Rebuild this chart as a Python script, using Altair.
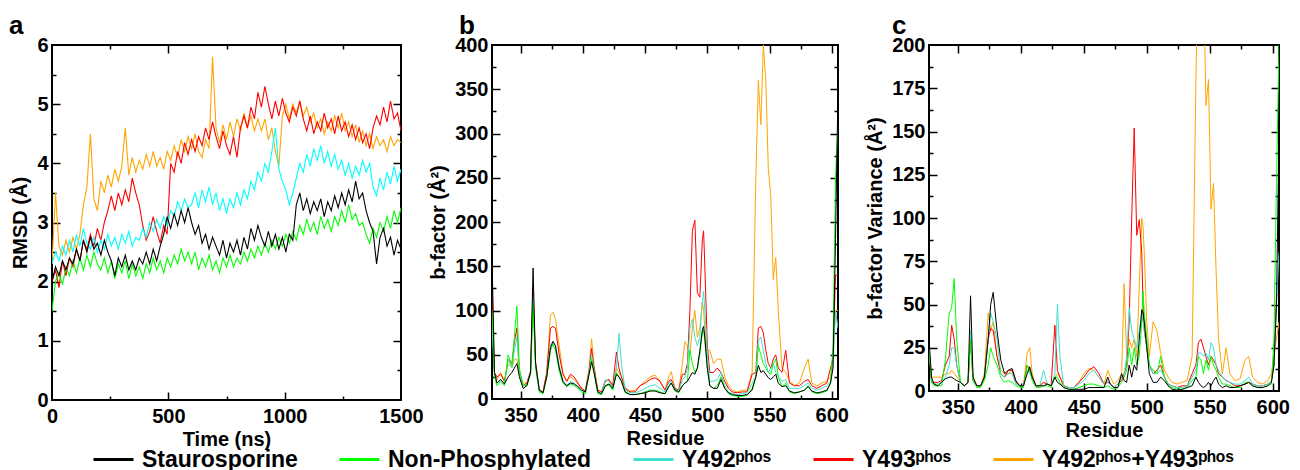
import altair as alt
import pandas as pd

FONT = "Liberation Sans"

series_names = ["Staurosporine", "Non-Phosphylated", "Y492ᵖʰᵒˢ", "Y493ᵖʰᵒˢ", "Y492ᵖʰᵒˢ+Y493ᵖʰᵒˢ"]
colors_a = ["#000000", "#00ff00", "#00ffff", "#ff0000", "#ffa500"]
colors_bc = ["#000000", "#00ff00", "#40e0d0", "#ff0000", "#ffa500"]

# ---------------- panel a: RMSD vs time ----------------
time_ns = list(range(0, 1501, 15))

rmsd_staurosporine = [
    2.00, 2.25, 2.10, 2.35, 2.20, 2.40, 2.30, 2.55, 2.35, 2.70,
    2.50, 2.75, 2.55, 2.65, 2.45, 2.70, 2.50, 2.35, 2.10, 2.40,
    2.25, 2.45, 2.20, 2.35, 2.20, 2.40, 2.30, 2.50, 2.30, 2.55,
    2.35, 2.60, 2.80, 3.10, 2.90, 3.15, 2.95, 3.20, 3.00, 3.25,
    3.00, 2.80, 2.95, 2.65, 2.80, 2.55, 2.75, 2.60, 2.45, 2.70,
    2.40, 2.65, 2.50, 2.70, 2.45, 2.75, 2.55, 2.90, 2.70, 2.95,
    2.75, 2.60, 2.85, 2.60, 2.80, 2.55, 2.75, 2.50, 2.80, 2.70,
    3.30, 3.50, 3.20, 3.40, 3.15, 3.35, 3.20, 3.40, 3.10, 3.35,
    3.20, 3.45, 3.25, 3.50, 3.30, 3.55, 3.35, 3.70, 3.40, 3.50,
    3.20, 3.00, 2.85, 2.30, 2.75, 2.90, 2.60, 2.75, 2.45, 2.70,
    2.55]
rmsd_nonphos = [
    1.50, 2.00, 2.15, 1.95, 2.25, 2.10, 2.35, 2.15, 2.40, 2.20,
    2.45, 2.25, 2.50, 2.30, 2.20, 2.40, 2.15, 2.35, 2.05, 2.30,
    2.15, 2.35, 2.05, 2.30, 2.10, 2.25, 2.05, 2.30, 2.15, 2.40,
    2.20, 2.35, 2.15, 2.40, 2.25, 2.45, 2.30, 2.55, 2.35, 2.50,
    2.30, 2.50, 2.20, 2.40, 2.25, 2.45, 2.20, 2.35, 2.15, 2.40,
    2.25, 2.45, 2.25, 2.40, 2.30, 2.50, 2.35, 2.55, 2.40, 2.60,
    2.45, 2.65, 2.50, 2.70, 2.55, 2.75, 2.60, 2.80, 2.65, 2.85,
    2.70, 2.95, 2.80, 3.05, 2.85, 3.00, 2.80, 3.10, 2.90, 3.05,
    2.85, 3.10, 2.95, 3.20, 3.00, 3.30, 3.05, 3.15, 2.95, 3.00,
    2.80, 2.65, 2.90, 2.75, 3.00, 2.85, 3.10, 2.90, 3.20, 3.00,
    3.25]
rmsd_y492 = [
    2.30, 2.50, 2.35, 2.60, 2.45, 2.70, 2.50, 2.80, 2.60, 2.90,
    2.65, 2.55, 2.75, 2.50, 2.70, 2.55, 2.80, 2.60, 2.75, 2.55,
    2.80, 2.65, 2.85, 2.60, 2.75, 2.70, 2.90, 2.75, 3.00, 2.85,
    3.05, 2.90, 3.10, 2.95, 3.20, 3.10, 3.35, 3.20, 3.40, 3.25,
    3.30, 3.50, 3.25, 3.55, 3.35, 3.60, 3.30, 3.50, 3.20, 3.40,
    3.15, 3.40, 3.25, 3.50, 3.30, 3.55, 3.40, 3.70, 3.55, 3.85,
    3.70, 4.00, 3.85, 4.20, 4.60, 3.90, 3.70, 3.55, 3.30, 3.50,
    3.75, 4.00, 3.85, 4.15, 3.95, 4.25, 4.05, 4.30, 4.00, 4.20,
    3.95, 4.15, 3.90, 4.05, 3.80, 4.00, 3.75, 3.95, 3.80, 4.05,
    3.85, 4.00, 3.60, 3.45, 3.75, 3.55, 3.85, 3.65, 3.95, 3.70,
    3.90]
rmsd_y493 = [
    2.00, 2.20, 1.90, 2.35, 2.10, 2.40, 2.25, 2.55, 2.35, 2.70,
    2.55, 2.80, 2.60, 2.90, 2.70, 3.00, 3.20, 3.45, 3.20, 3.50,
    3.30, 3.55, 3.35, 3.75, 3.50, 3.30, 2.95, 2.70, 2.85, 3.10,
    2.85, 2.65, 2.95, 2.80, 4.00, 3.85, 4.20, 4.00, 4.35, 4.15,
    4.40, 4.20, 4.45, 4.30, 4.60, 4.40, 4.70, 4.45, 4.25, 4.55,
    4.30, 4.15, 4.45, 4.10, 4.60, 4.80, 4.60, 4.95, 4.75, 5.20,
    4.95, 5.30, 5.00, 4.75, 5.05, 4.80, 5.10, 4.85, 4.70, 4.95,
    4.80, 5.05, 4.75, 4.55, 4.80, 4.50, 4.70, 4.55, 4.85, 4.60,
    4.75, 4.50, 4.80, 4.55, 4.70, 4.45, 4.65, 4.40, 4.60, 4.35,
    4.50, 4.25, 4.60, 4.80, 4.65, 4.95, 4.70, 5.05, 4.75, 4.85,
    4.55]
rmsd_y492_y493 = [
    2.30, 3.50, 2.60, 2.45, 2.70, 2.50, 2.75, 2.55, 2.80, 3.30,
    3.60, 4.50, 3.40, 3.20, 3.70, 3.50, 3.80, 3.60, 3.90, 3.70,
    3.95, 4.60, 3.80, 4.10, 3.85, 4.05, 3.90, 4.15, 3.95, 4.20,
    3.95, 4.10, 3.90, 4.20, 4.05, 4.30, 4.10, 4.40, 4.20, 4.45,
    4.25, 4.50, 4.20, 4.10, 4.40, 4.25, 5.80, 4.60, 4.35, 4.65,
    4.40, 4.70, 4.45, 4.75, 4.55, 4.85, 4.60, 4.80, 4.55, 4.75,
    4.55, 4.75, 4.40, 4.60, 4.20, 3.95, 4.80, 5.00, 4.75, 5.00,
    4.85, 5.05, 4.80, 4.95, 4.70, 4.85, 4.60, 4.75, 4.50, 4.70,
    4.55, 4.80, 4.60, 4.85, 4.55, 4.70, 4.45, 4.65, 4.35, 4.55,
    4.30, 4.50, 4.25, 4.45, 4.30, 4.40, 4.20, 4.45, 4.30, 4.40,
    4.35]

# ---------------- panels b, c: per-residue ----------------
residues = [
    327, 329, 331, 334, 337, 340, 343, 345, 347, 349,
    352, 355, 358, 360, 362, 365, 368, 371, 374, 376,
    378, 381, 384, 387, 390, 393, 396, 399, 402, 405,
    407, 409, 412, 415, 418, 421, 424, 427, 429, 431,
    434, 438, 442, 446, 450, 454, 458, 462, 466, 469,
    471, 474, 477, 480, 482, 484, 486, 488, 490, 492,
    494, 496, 497, 498, 500, 502, 505, 508, 511, 514,
    517, 520, 524, 528, 532, 536, 539, 541, 543, 545,
    547, 549, 551, 553, 555, 557, 560, 563, 566, 570,
    574, 578, 581, 584, 588, 592, 596, 599, 601, 603,
    605]

bfac_staurosporine = [
    160, 30, 18, 22, 17, 25, 30, 35, 40, 25,
    12, 15, 30, 148, 40, 10, 7, 25, 58, 65,
    60, 35, 20, 15, 18, 17, 14, 10, 8, 28,
    42, 30, 8, 6, 15, 17, 12, 28, 25, 20,
    8, 5, 5, 6, 7, 9, 9, 7, 6, 14,
    18, 10, 8, 15, 18, 20, 25, 30, 28, 35,
    55, 78, 82, 70, 35, 15, 12, 12, 22, 12,
    7, 5, 4, 4, 5, 10, 25, 38, 30, 32,
    28, 24, 22, 25, 28, 18, 14, 15, 9, 7,
    8, 10, 14, 9, 7, 8, 10, 18, 35, 180,
    350]
bfac_nonphos = [
    100, 25, 15, 20, 15, 50, 38, 70, 105, 35,
    15, 15, 28, 110, 35, 8, 6, 25, 55, 62,
    55, 32, 18, 14, 17, 15, 12, 8, 6, 28,
    45, 30, 6, 5, 14, 16, 10, 30, 25, 20,
    7, 5, 5, 6, 8, 10, 10, 8, 6, 14,
    18, 9, 7, 15, 18, 20, 55, 40, 30, 35,
    50, 75, 78, 65, 35, 15, 12, 15, 25, 12,
    6, 4, 3, 3, 4, 12, 25, 60, 50, 40,
    35, 30, 28, 40, 45, 25, 14, 18, 8, 6,
    8, 10, 15, 8, 6, 7, 9, 18, 60, 250,
    310]
bfac_y492 = [
    80, 28, 18, 22, 17, 45, 35, 55, 70, 30,
    15, 16, 30, 115, 38, 9, 7, 25, 62, 65,
    60, 38, 20, 15, 20, 18, 14, 10, 7, 30,
    50, 32, 7, 6, 22, 20, 12, 35, 74, 40,
    10, 7, 7, 9, 12, 15, 16, 12, 8, 18,
    20, 11, 9, 22, 25, 35, 80, 90, 70, 60,
    70, 110, 122, 100, 50, 20, 20, 22, 30, 15,
    8, 6, 5, 6, 7, 18, 25, 65, 70, 55,
    40, 30, 35, 40, 30, 25, 20, 22, 12, 12,
    12, 15, 18, 12, 10, 12, 15, 20, 40, 100,
    80]
bfac_y493 = [
    120, 30, 25, 28, 20, 45, 40, 65, 80, 30,
    15, 18, 32, 125, 42, 10, 8, 30, 80, 82,
    80, 50, 28, 20, 28, 25, 18, 12, 9, 32,
    57, 35, 10, 8, 20, 22, 15, 53, 35, 25,
    12, 8, 8, 15, 18, 22, 24, 20, 10, 20,
    22, 12, 10, 28, 28, 40, 100, 190, 202, 120,
    115, 180, 190, 150, 60, 30, 30, 35, 30, 20,
    12, 8, 7, 8, 8, 28, 30, 80, 82, 75,
    55, 40, 35, 45, 50, 35, 30, 55, 18, 15,
    15, 20, 22, 15, 12, 15, 18, 35, 45, 140,
    140]
bfac_y492_y493 = [
    100, 25, 22, 30, 20, 40, 35, 45, 45, 30,
    18, 18, 30, 120, 40, 10, 8, 30, 95, 98,
    90, 60, 30, 20, 25, 22, 17, 12, 9, 35,
    68, 38, 10, 8, 20, 22, 15, 35, 30, 25,
    12, 9, 10, 15, 20, 25, 27, 20, 10, 25,
    31, 12, 10, 40, 65, 60, 50, 80, 100, 70,
    80, 110, 100, 80, 55, 55, 40, 45, 45, 25,
    15, 10, 8, 10, 10, 30, 250, 360, 310, 400,
    360, 260, 230, 135, 160, 100, 35, 30, 20, 15,
    18, 35, 45, 18, 15, 18, 20, 25, 45, 100,
    100]

bvar_staurosporine = [
    30, 8, 4, 3, 5, 7, 8, 8, 7, 6,
    5, 3, 5, 55, 8, 3, 3, 8, 30, 50,
    57, 35, 18, 10, 12, 13, 6, 3, 3, 10,
    14, 8, 3, 3, 3, 4, 3, 8, 5, 4,
    2, 1, 1, 1, 1, 2, 2, 2, 2, 8,
    4, 2, 2, 10, 6, 5, 15, 8, 15, 12,
    30, 47, 45, 40, 25, 10, 5, 5, 8, 6,
    3, 1, 0.5, 1, 2, 3, 8, 5, 3, 2,
    3, 5, 3, 6, 8, 4, 2, 3, 2, 2,
    3, 4, 5, 3, 2, 2, 3, 5, 15, 50,
    150]
bvar_nonphos = [
    25, 5, 3, 3, 3, 18, 45, 48, 65, 30,
    5, 3, 5, 30, 6, 2, 2, 6, 15, 25,
    20, 15, 8, 5, 6, 5, 3, 2, 2, 15,
    12, 6, 2, 2, 3, 3, 2, 8, 8, 5,
    2, 1, 1, 2, 3, 4, 4, 3, 2, 3,
    2, 1, 2, 5, 8, 12, 25, 15, 25, 15,
    20, 40, 58, 45, 30, 15, 12, 10, 20, 8,
    3, 2, 1, 1, 2, 6, 8, 20, 18, 10,
    18, 12, 20, 15, 12, 8, 4, 4, 3, 2,
    2, 5, 5, 3, 2, 2, 3, 4, 30, 120,
    200]
bvar_y492 = [
    25, 6, 4, 4, 5, 8, 15, 25, 25, 15,
    5, 3, 5, 35, 7, 3, 3, 8, 30, 45,
    40, 30, 10, 8, 10, 10, 4, 3, 3, 12,
    10, 8, 3, 3, 12, 4, 3, 10, 50, 20,
    3, 2, 2, 4, 6, 10, 12, 8, 4, 6,
    4, 2, 4, 8, 10, 20, 48, 35, 30, 25,
    35, 45, 40, 35, 25, 15, 10, 10, 12, 8,
    4, 3, 2, 2, 3, 8, 12, 22, 22, 20,
    22, 18, 28, 25, 15, 12, 8, 6, 5, 4,
    4, 6, 8, 4, 3, 3, 4, 6, 15, 50,
    80]
bvar_y493 = [
    25, 5, 5, 5, 6, 15, 20, 38, 30, 15,
    5, 3, 5, 30, 6, 3, 3, 8, 30, 36,
    35, 20, 10, 8, 12, 12, 5, 3, 3, 15,
    12, 8, 3, 3, 5, 4, 3, 38, 12, 8,
    3, 2, 2, 5, 8, 12, 14, 10, 4, 5,
    4, 2, 4, 6, 10, 15, 40, 100, 152, 90,
    99, 80, 50, 35, 25, 15, 10, 12, 15, 8,
    4, 3, 2, 3, 3, 10, 15, 28, 30, 25,
    20, 15, 20, 18, 15, 10, 8, 6, 5, 3,
    3, 4, 5, 4, 3, 3, 4, 6, 15, 55,
    55]
bvar_y492_y493 = [
    25, 8, 8, 8, 8, 10, 10, 12, 10, 8,
    5, 3, 5, 30, 8, 3, 3, 10, 45, 35,
    40, 20, 12, 10, 10, 12, 5, 3, 3, 22,
    25, 10, 3, 3, 5, 4, 3, 8, 10, 8,
    3, 2, 2, 5, 10, 13, 12, 8, 4, 12,
    8, 4, 6, 10, 62, 20, 30, 25, 30, 20,
    60, 100, 95, 80, 40, 20, 40, 35, 22, 12,
    8, 5, 4, 5, 6, 20, 180, 260, 280, 240,
    165, 180, 105, 120, 70, 30, 10, 25, 10, 6,
    7, 18, 20, 8, 5, 4, 6, 10, 20, 30,
    40]

# ---------------- tables ----------------
rmsd_sets = [rmsd_staurosporine, rmsd_nonphos, rmsd_y492, rmsd_y493, rmsd_y492_y493]
bfac_sets = [bfac_staurosporine, bfac_nonphos, bfac_y492, bfac_y493, bfac_y492_y493]
bvar_sets = [bvar_staurosporine, bvar_nonphos, bvar_y492, bvar_y493, bvar_y492_y493]

draw_order = [4, 3, 2, 1, 0]  # orange first, black on top


def long_table(xname, xs, yname, sets):
    rows = []
    for i in draw_order:
        for x, y in zip(xs, sets[i]):
            rows.append({xname: x, yname: y, "series": series_names[i]})
    return pd.DataFrame(rows)


df_a = long_table("time", time_ns, "rmsd", rmsd_sets)
df_b = long_table("residue", residues, "value", bfac_sets)
df_c = long_table("residue", residues, "value", bvar_sets)


def frame_layers(df, xf, yf, sx, sy, xlabels, ylabels, xmaj, xmin, ymaj, ymin,
                 xtitle, ytitle):
    one = df.head(1)
    layers = [
        alt.Chart(one).mark_point(opacity=0).encode(
            x=alt.X(f"{xf}:Q", scale=sx, axis=alt.Axis(
                orient="bottom", values=xlabels, ticks=False, domain=False, grid=False,
                title=xtitle, labelPadding=6, titlePadding=3, format="d",
                labelFlush=False, labelOverlap=False)),
            y=alt.Y(f"{yf}:Q", scale=sy, axis=alt.Axis(
                orient="left", values=ylabels, ticks=False, domain=False, grid=False,
                title=ytitle, labelPadding=4, titlePadding=6, labelFlush=False,
                labelOverlap=False)),
        )
    ]
    # inward ticks on all four sides: axes pulled into the plot by their tick length
    for size, xv, yv in [(8, xmaj, ymaj), (4, xmin, ymin)]:
        for ox, oy in [("bottom", "left"), ("top", "right")]:
            layers.append(
                alt.Chart(one).mark_point(opacity=0).encode(
                    x=alt.X(f"{xf}:Q", scale=sx, axis=alt.Axis(
                        orient=ox, values=xv, labels=False, domain=False, grid=False,
                        ticks=True, tickSize=size, offset=-size, tickColor="black",
                        tickWidth=1.5, title=None)),
                    y=alt.Y(f"{yf}:Q", scale=sy, axis=alt.Axis(
                        orient=oy, values=yv, labels=False, domain=False, grid=False,
                        ticks=True, tickSize=size, offset=-size, tickColor="black",
                        tickWidth=1.5, title=None)),
                )
            )
    return layers


def panel_title(t, dx, offset):
    return alt.TitleParams(text=t, anchor="start", frame="group", dx=dx, offset=offset,
                           fontSize=26, font=FONT, fontWeight="bold", color="black")


WA, HA = 349, 355
WB, HB = 346, 354
WC, HC = 350, 346

# panel a
sxa = alt.Scale(domain=[0, 1500], nice=False, zero=False)
sya = alt.Scale(domain=[0, 6], nice=False, zero=False)
lines_a = []
for i in draw_order:
    sub = df_a[df_a["series"] == series_names[i]]
    lines_a.append(
        alt.Chart(sub).mark_line(color=colors_a[i], strokeWidth=1.1, clip=True).encode(
            x=alt.X("time:Q", scale=sxa, axis=None),
            y=alt.Y("rmsd:Q", scale=sya, axis=None),
        )
    )
panel_a = alt.layer(
    *lines_a,
    *frame_layers(df_a, "time", "rmsd", sxa, sya, [0, 500, 1000, 1500],
                  [0, 1, 2, 3, 4, 5, 6], [500, 1000], [250, 750, 1250], [1, 2, 3, 4, 5],
                  [0.5, 1.5, 2.5, 3.5, 4.5, 5.5], "Time (ns)", "RMSD (Å)"),
).resolve_axis(x="independent", y="independent").properties(
    width=WA, height=HA, title=panel_title("a", -43, -4))

legend_def = alt.Legend(
    title=None, orient="none", legendX=40, legendY=393, direction="horizontal",
    gridAlign="none",
    symbolType="stroke", symbolSize=1600, symbolStrokeWidth=3,
    labelFont=FONT, labelFontSize=23, labelFontWeight="bold", labelColor="black",
    columnPadding=35, labelOffset=7, labelLimit=500)

color_bc = alt.Color("series:N", scale=alt.Scale(domain=series_names, range=colors_bc),
                     legend=legend_def)

res_major = [350, 400, 450, 500, 550, 600]
res_minor = [375, 425, 475, 525, 575]

# panel b
sxb = alt.Scale(domain=[327, 605], nice=False, zero=False)
syb = alt.Scale(domain=[0, 400], nice=False, zero=False)
lines_b = alt.Chart(df_b).mark_line(strokeWidth=1, clip=True).encode(
    x=alt.X("residue:Q", scale=sxb, axis=None),
    y=alt.Y("value:Q", scale=syb, axis=None),
    color=color_bc,
)
panel_b = alt.layer(
    lines_b,
    *frame_layers(df_b, "residue", "value", sxb, syb, res_major,
                  list(range(0, 401, 50)), res_major, res_minor, list(range(50, 400, 50)),
                  list(range(25, 400, 50)), "Residue", "b-factor (Å²)"),
).resolve_axis(x="independent", y="independent").properties(
    width=WB, height=HB, title=panel_title("b", -33, -4))

# panel c
sxc = alt.Scale(domain=[327, 605], nice=False, zero=False)
syc = alt.Scale(domain=[0, 200], nice=False, zero=False)
lines_c = alt.Chart(df_c).mark_line(strokeWidth=1, clip=True).encode(
    x=alt.X("residue:Q", scale=sxc, axis=None),
    y=alt.Y("value:Q", scale=syc, axis=None),
    color=color_bc,
)
panel_c = alt.layer(
    lines_c,
    *frame_layers(df_c, "residue", "value", sxc, syc, res_major,
                  list(range(0, 201, 25)), res_major, res_minor, list(range(25, 200, 25)),
                  [12.5 + 25 * k for k in range(8)], "Residue", "b-factor Variance (Å²)"),
).resolve_axis(x="independent", y="independent").properties(
    width=WC, height=HC, title=panel_title("c", -37, -4))

chart = alt.hconcat(panel_a, panel_b, panel_c, spacing=91, bounds="flush").configure(
    padding={"left": 0, "top": 4, "right": 0, "bottom": 0}, background="white"
).configure_view(
    stroke="black", strokeWidth=2
).configure_axis(
    labelFont=FONT, labelFontSize=20, labelFontWeight="bold", labelColor="black",
    titleFont=FONT, titleFontSize=20, titleFontWeight="bold", titleColor="black",
)

chart.save("out.html", embed_options={"renderer": "svg", "actions": False})
